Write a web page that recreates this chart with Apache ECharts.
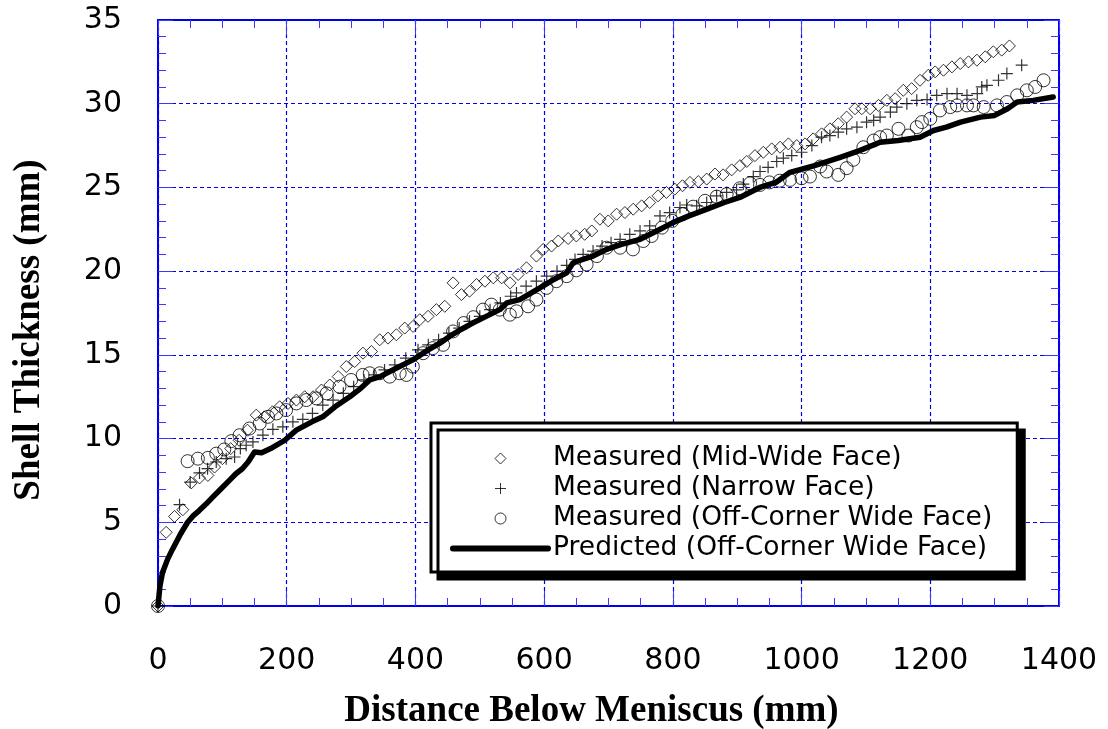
<!DOCTYPE html>
<html>
<head>
<meta charset="utf-8">
<script src="https://cdn.jsdelivr.net/npm/echarts@6/dist/echarts.min.js"></script>
<style>
  html, body { margin: 0; padding: 0; background: #fff; }
  #chart { width: 1108px; height: 729px; }
</style>
</head>
<body>
<div id="chart"></div>
<script>
// Shell thickness versus distance below the meniscus
const seriesNames = [
  'Measured (Mid-Wide Face)',
  'Measured (Narrow Face)',
  'Measured (Off-Corner Wide Face)',
  'Predicted (Off-Corner Wide Face)'
];

// Mid-wide face measurements (mm, mm)
const midWideX = [0,12.7,25.7,38.6,51.6,64.5,77.5,87.9,100,113,126,139,152.7,165,178,189,202,215,228,241,254,267,280,292.6,305.6,318.5,331.6,344.5,357.4,370.4,383.4,396.3,406.7,419.6,432.6,445.6,458.5,471.5,484,495,508,521,534,547,559.6,572.6,588,598.5,611.5,622,637.3,650,663,674,686.6,699.6,712.6,725.5,738.4,751.5,764,777,790,803,815,826.6,839.5,852.6,865.5,878,891.4,904.3,914.8,927.6,940.6,953.6,966.6,979.5,992.5,1005.4,1018,1031,1044,1057,1070,1083,1093.6,1106.5,1119.4,1132.5,1145.4,1158,1171,1184,1197,1207.6,1220.5,1233.6,1246.5,1259.4,1272.4,1285.4,1298,1311,1323];
const midWideY = [0,4.4,5.35,5.75,7.35,7.65,7.8,8.3,8.8,9.4,9.9,10.5,11.4,11.3,11.6,11.9,12.1,12.3,12.5,12.5,12.9,13.2,13.7,14.3,14.6,15.1,15.2,15.9,16.0,16.2,16.6,16.7,17.1,17.3,17.7,17.9,19.3,18.6,18.8,19.2,19.4,19.6,19.6,19.3,19.8,20.2,20.9,21.3,21.5,21.8,21.95,22.1,22.2,22.4,23.1,23.0,23.4,23.5,23.7,23.9,24.1,24.5,24.7,24.9,25.1,25.3,25.35,25.5,25.8,25.75,26.05,26.3,26.55,26.9,27.1,27.3,27.4,27.6,27.5,27.6,27.9,28.2,28.5,28.8,29.2,29.7,29.7,29.7,29.9,30.2,30.3,30.8,30.9,31.4,31.7,31.9,32.0,32.2,32.4,32.5,32.6,32.8,33.1,33.2,33.45];

// Narrow face measurements
const narrowX = [0,33.5,50,64.5,77,90.5,106,119,128,137,147.5,163,178.5,194,209.6,225,240,256,272,288,304,320,336,352,368,385,404,420,436,452,468,484,500,516,532,548,557,572,588,604,620,635,648,660.6,676,690,704,718,733,749,764,780,795,811,821.5,837,852.6,868,883.6,899,909.5,925,935.5,948,961.4,971.7,984.7,1000,1016,1031,1044,1057,1070,1086,1101,1112,1122,1138,1148,1163.6,1179,1195,1210,1226,1241.6,1257,1273,1280,1288,1306,1319,1342];
const narrowY = [0,6.05,7.4,7.95,8.2,8.6,8.8,8.9,9.4,9.6,9.8,10.2,10.55,10.7,11.0,11.15,11.5,12.0,12.3,12.7,13.1,13.5,13.8,14.1,14.4,14.8,15.3,15.6,15.9,16.3,16.6,17.0,17.3,17.7,18.1,18.5,18.7,19.1,19.4,19.7,20.0,20.35,20.7,21.0,21.2,21.5,21.7,21.9,22.2,22.4,22.7,23.3,23.5,23.8,23.95,23.9,24.1,24.5,24.7,24.85,25.2,25.65,25.95,26.2,26.55,26.75,26.9,27.1,27.5,28.0,28.1,28.3,28.5,28.6,28.9,29.0,29.2,29.5,29.8,30.0,30.2,30.25,30.5,30.6,30.6,30.5,30.6,31.0,31.1,31.4,31.8,32.3];

// Off-corner wide face measurements
const offCornerX = [0,46,62,77.5,90.5,103,114,126.7,142,158,171,184,199,215,230.5,246,262,282,300,318,329,344.5,360,375.5,386,396,412,427,443,458.5,475,490,505,518,531,546.7,557,575,588,603.7,619,635,650,666,682,697,718,738,754,767,783,799,815,831.5,850,868,883.6,904,920,935.5,950,966,982,1000,1013,1029,1039,1057,1070,1080.5,1096,1112,1122,1132.5,1150.6,1166,1179,1187,1200,1215,1231,1241.6,1257,1267,1283,1303.6,1319,1335,1350,1363,1376];
const offCornerY = [0,8.65,8.8,8.85,9.1,9.35,9.85,10.2,10.6,10.9,11.3,11.5,11.7,12.1,12.3,12.4,12.7,13.1,13.5,13.8,13.9,13.9,13.7,13.9,13.8,14.3,15.1,15.4,15.6,16.4,16.9,17.25,17.7,18.0,17.7,17.4,17.6,17.9,18.3,19.0,19.4,19.7,20.05,20.4,20.9,21.4,21.4,21.3,21.8,22.1,22.6,23.0,23.4,23.85,24.2,24.45,24.6,24.95,25.25,25.15,25.3,25.4,25.45,25.55,25.65,26.25,25.95,25.75,26.15,26.65,27.4,27.8,28.0,28.1,28.5,28.1,28.6,28.9,29.1,29.6,29.8,29.9,29.9,29.9,29.8,29.9,30.1,30.5,30.8,31.0,31.4];

// Model prediction for the off-corner wide face
const predictedX = [0,3,7,15,22,35,46,55,64,75,85,98,111,121,131,140,150,161,175,197,215,239,256,275,298,315,329,345,370,396,420,438,453,470,489,510,531,542,562,580,598,615,635,645,660,676,697,720,749,775,800,825,853,880,904,935,960,982,1020,1060,1090,1122,1150,1184,1205,1225,1247,1278,1300,1320,1335,1360,1391];
const predictedY = [0,1.2,2.0,2.8,3.35,4.3,5.0,5.4,5.7,6.1,6.5,7.0,7.5,7.9,8.2,8.6,9.2,9.15,9.4,9.9,10.5,11.0,11.3,11.9,12.5,13.0,13.5,13.7,14.2,14.7,15.3,15.7,16.1,16.5,16.9,17.3,17.7,18.1,18.3,18.7,19.1,19.5,19.9,20.5,20.7,20.9,21.3,21.6,21.9,22.4,22.9,23.3,23.7,24.1,24.4,25.0,25.3,25.9,26.3,26.8,27.2,27.7,27.8,28.0,28.4,28.6,28.9,29.2,29.3,29.7,30.1,30.2,30.4];

const pairs = (xs, ys) => xs.map((x, i) => [x, ys[i]]);

const BLUE = '#0000ee';
const TICK_BLUE = '#3a3aff';
const PLUS = 'path://M5,0L5,10M0,5L10,5';
const DIAMOND = 'path://M5,0L10,5L5,10L0,5Z';
const HOLLOW = { color: 'rgba(0,0,0,0)', borderColor: '#000', borderWidth: 1 };

const tickFont = { fontFamily: 'DejaVu Sans', fontSize: 30, color: '#000' };
const titleFont = { fontFamily: 'Liberation Serif', fontWeight: 'bold', fontSize: 37, color: '#000' };

function frameAxis(extra) {
  return Object.assign({
    type: 'value',
    axisLine: { show: true, onZero: false, lineStyle: { color: BLUE, width: 2 } },
    axisTick: { show: true, inside: true, length: 15, lineStyle: { color: TICK_BLUE, width: 1 } },
    splitLine: { show: false },
    minorSplitLine: { show: false }
  }, extra);
}

const chart = echarts.init(document.getElementById('chart'), null, { renderer: 'canvas' });

chart.setOption({
  backgroundColor: '#fff',
  animation: false,
  grid: { left: 158, right: 49, top: 20, bottom: 123, containLabel: false, outerBoundsMode: 'none' },
  xAxis: [
    frameAxis({
      min: 0, max: 1400, interval: 200, position: 'bottom',
      minorTick: { show: true, splitNumber: 4, length: 8, lineStyle: { color: TICK_BLUE, width: 1 } },
      axisLabel: Object.assign({ margin: 40, formatter: v => String(v) }, tickFont),
      splitLine: { show: true, lineStyle: { color: BLUE, width: 1.2, type: [4, 3] } },
      name: 'Distance Below Meniscus (mm)',
      nameLocation: 'middle',
      nameGap: 87,
      nameTextStyle: Object.assign({ padding: [0, 34, 0, 0] }, titleFont)
    }),
    frameAxis({
      min: 0, max: 1400, interval: 200, position: 'top',
      minorTick: { show: true, splitNumber: 4, length: 8, lineStyle: { color: TICK_BLUE, width: 1 } },
      axisLabel: { show: false }
    })
  ],
  yAxis: [
    frameAxis({
      min: 0, max: 35, interval: 5, position: 'left',
      minorTick: { show: true, splitNumber: 5, length: 8, lineStyle: { color: TICK_BLUE, width: 1 } },
      axisLabel: Object.assign({ margin: 36, formatter: v => String(v) }, tickFont),
      splitLine: { show: true, lineStyle: { color: BLUE, width: 1.2, type: [4, 3] } },
      name: 'Shell Thickness (mm)',
      nameLocation: 'middle',
      nameGap: 110,
      nameRotate: 90,
      nameTextStyle: Object.assign({ padding: [0, 34, 0, 0] }, titleFont)
    }),
    frameAxis({
      min: 0, max: 35, interval: 5, position: 'right',
      minorTick: { show: true, splitNumber: 5, length: 8, lineStyle: { color: TICK_BLUE, width: 1 } },
      axisLabel: { show: false }
    })
  ],
  legend: {
    orient: 'vertical',
    left: 431,
    top: 423,
    padding: [22, 25, 10, 19],
    itemWidth: 95,
    itemHeight: 11,
    itemGap: 3,
    symbolKeepAspect: true,
    backgroundColor: '#fff',
    borderColor: '#000',
    borderWidth: 3,
    borderRadius: 0,
    shadowColor: '#000',
    shadowBlur: 0,
    shadowOffsetX: 7,
    shadowOffsetY: 7,
    selectedMode: false,
    textStyle: { fontFamily: 'DejaVu Sans', fontSize: 26.5, color: '#000', lineHeight: 25 },
    data: [
      { name: seriesNames[0], icon: DIAMOND, itemStyle: HOLLOW },
      { name: seriesNames[1], icon: PLUS, itemStyle: HOLLOW },
      { name: seriesNames[2], icon: 'circle', itemStyle: HOLLOW },
      {
        name: seriesNames[3],
        itemStyle: { color: 'rgba(0,0,0,0)', borderWidth: 0, opacity: 0 },
        lineStyle: { color: '#000', width: 6, opacity: 1 }
      }
    ]
  },
  series: [
    {
      name: seriesNames[0],
      type: 'scatter',
      symbol: 'diamond',
      symbolSize: 12,
      itemStyle: HOLLOW,
      data: pairs(midWideX, midWideY),
      z: 3
    },
    {
      name: seriesNames[1],
      type: 'scatter',
      symbol: PLUS,
      symbolSize: 12,
      itemStyle: { color: 'rgba(0,0,0,0)', borderColor: '#000', borderWidth: 1.2 },
      data: pairs(narrowX, narrowY),
      z: 3
    },
    {
      name: seriesNames[2],
      type: 'scatter',
      symbol: 'circle',
      symbolSize: 13,
      itemStyle: HOLLOW,
      data: pairs(offCornerX, offCornerY),
      z: 3
    },
    {
      name: seriesNames[3],
      type: 'line',
      symbol: 'none',
      showSymbol: false,
      lineStyle: { color: '#000', width: 5.5, join: 'round', cap: 'round' },
      data: pairs(predictedX, predictedY),
      z: 4
    }
  ]
});
</script>
</body>
</html>
